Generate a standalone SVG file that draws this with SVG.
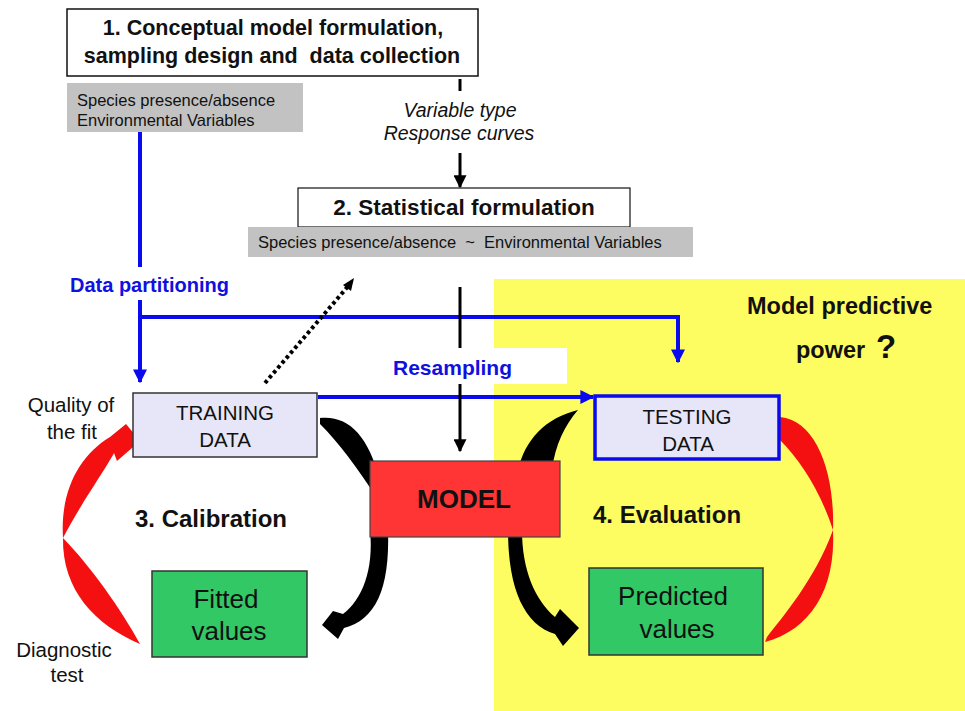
<svg xmlns="http://www.w3.org/2000/svg" width="965" height="711" viewBox="0 0 965 711">
<style>
text{font-family:"Liberation Sans",Arial,sans-serif;fill:#111}
.b{font-weight:bold}
.blue{fill:#1010e0;font-weight:bold}
.c{text-anchor:middle}
.box{stroke:#333;stroke-width:1.5}
.gray{fill:#c2c2c2}
.lav{fill:#e6e6f8}
.grn{fill:#33c866}
.bl{stroke:#0a0aee;stroke-width:4;fill:none}
.bk{stroke:#000;stroke-width:3;fill:none}
.red{fill:#f41010}
</style>
<defs>
<marker id="ab" viewBox="0 0 10 10" refX="9" refY="5" markerWidth="14" markerHeight="14" markerUnits="userSpaceOnUse" orient="auto"><path d="M0,0 L10,5 L0,10 z" fill="#0a0aee"/></marker>
<marker id="ak" viewBox="0 0 10 10" refX="9" refY="5" markerWidth="13" markerHeight="13" markerUnits="userSpaceOnUse" orient="auto"><path d="M0,0 L10,5 L0,10 z" fill="#000"/></marker>
</defs>
<rect width="965" height="711" fill="#fff"/>
<rect x="494" y="279" width="471" height="432" fill="#fdfd62"/>

<g id="connectors">
<line class="bk" x1="460" y1="79" x2="460" y2="91"/>
<line class="bk" x1="460" y1="153" x2="460" y2="187" marker-end="url(#ak)"/>
<path class="bl" d="M140,132 V267"/>
<path class="bl" d="M140,300 V382" marker-end="url(#ab)"/>
<path class="bl" d="M140,317 H678 V362" marker-end="url(#ab)"/>
<path class="bl" d="M318,397 H593" marker-end="url(#ab)"/>
<line class="bk" x1="460" y1="287" x2="460" y2="451" marker-end="url(#ak)"/>
<rect x="385" y="348" width="182" height="36" fill="#fff"/>
<line x1="265" y1="383" x2="350" y2="284" stroke="#000" stroke-width="4" stroke-dasharray="3.5 3"/>
<path d="M343,285 L354,278 L351,291 Z" fill="#000"/>
<!-- black flows -->
<path d="M320,418 C348,415 368,435 380,480 L378,500 C358,468 338,442 320,424 Z" fill="#000"/>
<path d="M518,470 C525,440 545,418 578,410 C565,425 555,445 552,470 Z" fill="#000"/>
<path d="M370,530 L388,530 C390,590 375,620 344,628 L338,639 L322,625 L333,611 L343,614 C362,600 374,570 370,530 Z" fill="#000"/>
<path d="M508,530 L522,530 C522,570 535,600 555,617 L560,609 L579,628 L563,646 L555,634 C525,625 508,590 508,530 Z" fill="#000"/>
<!-- red feedback -->
<path class="red" d="M63,538 C60,490 80,455 110,437 L126,424 L140,441 L117,461 L114,453 C105,470 80,505 63,538 Z"/>
<path class="red" d="M63,538 C62,590 95,625 140,644 C120,608 92,568 63,538 Z"/>
<path class="red" d="M780,417 C815,420 835,470 833,530 C820,490 800,460 780,440 Z"/>
<path class="red" d="M833,530 C836,590 810,630 765,642 L767,637 C780,620 815,580 833,530 Z"/>
</g>

<g id="box1">
<rect x="67" y="9" width="411" height="67" fill="#fff" stroke="#111" stroke-width="1.5"/>
<text class="b c" x="273" y="35" font-size="21.5">1. Conceptual model formulation,</text>
<text class="b c" x="272" y="63" font-size="21.5" xml:space="preserve">sampling design and  data collection</text>
</g>
<g id="data1">
<rect class="gray" x="67" y="83" width="236" height="49"/>
<text x="77" y="106" font-size="16.5" fill="#222">Species presence/absence</text>
<text x="77" y="126" font-size="16.5" fill="#222">Environmental Variables</text>
</g>
<g id="vartype">
<text class="c" x="460" y="117" font-size="19.5" font-style="italic">Variable type</text>
<text class="c" x="459" y="140" font-size="19.5" font-style="italic">Response curves</text>
</g>
<g id="box2">
<rect x="298" y="188" width="332" height="39" fill="#fff" stroke="#111" stroke-width="1.2"/>
<text class="b c" x="464" y="215" font-size="22.5">2. Statistical formulation</text>
</g>
<g id="formula">
<rect class="gray" x="248" y="227" width="445" height="30"/>
<text x="258" y="248" font-size="16.5" fill="#222" xml:space="preserve">Species presence/absence  ~  Environmental Variables</text>
</g>
<text class="blue" x="70" y="292" font-size="20">Data partitioning</text>
<text class="blue" x="393" y="375" font-size="21">Resampling</text>
<g id="power">
<text class="b" x="747" y="314" font-size="23.5">Model predictive</text>
<text class="b" x="796" y="358" font-size="23.5">power</text>
<text class="b" x="876" y="358" font-size="33">?</text>
</g>
<g id="training">
<rect class="lav box" x="133" y="393" width="184" height="64"/>
<text class="c" x="225" y="420" font-size="20.5">TRAINING</text>
<text class="c" x="225" y="447" font-size="20.5">DATA</text>
</g>
<g id="testing">
<rect class="lav" x="595" y="396" width="184" height="63" stroke="#0a0aee" stroke-width="3.5"/>
<text class="c" x="687" y="424" font-size="20.5">TESTING</text>
<text class="c" x="688" y="451" font-size="20.5">DATA</text>
</g>
<g id="model">
<rect x="370" y="461" width="190" height="76" fill="#ff3434" stroke="#444" stroke-width="1.2"/>
<text class="b c" x="464" y="508" font-size="26">MODEL</text>
</g>
<g id="fitted">
<rect class="grn box" x="152" y="571" width="155" height="86"/>
<text class="c" x="226" y="608" font-size="26">Fitted</text>
<text class="c" x="229" y="640" font-size="26">values</text>
</g>
<g id="predicted">
<rect class="grn box" x="589" y="568" width="174" height="87"/>
<text class="c" x="673" y="605" font-size="26">Predicted</text>
<text class="c" x="677" y="638" font-size="26">values</text>
</g>
<text class="b" x="135" y="527" font-size="24">3. Calibration</text>
<text class="b" x="593" y="523" font-size="24">4. Evaluation</text>
<g id="quality">
<text class="c" x="71" y="412" font-size="20.5">Quality of</text>
<text class="c" x="72" y="439" font-size="20.5">the fit</text>
</g>
<g id="diagnostic">
<text class="c" x="64" y="657" font-size="20.5">Diagnostic</text>
<text class="c" x="67" y="682" font-size="20.5">test</text>
</g>
</svg>
